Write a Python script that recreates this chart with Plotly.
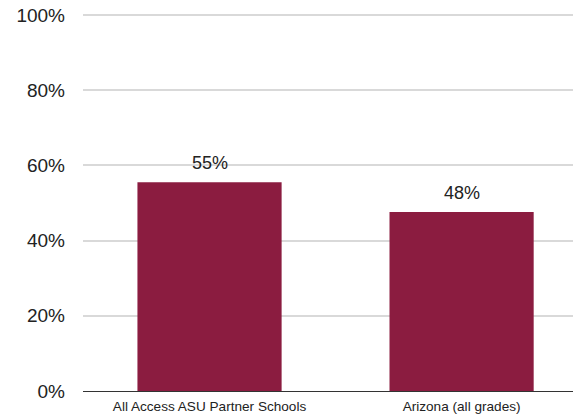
import plotly.graph_objects as go

categories = ["All Access ASU Partner Schools", "Arizona (all grades)"]
values = [55.5, 47.6]
value_labels = ["55%", "48%"]
y_ticks = [0, 20, 40, 60, 80, 100]
y_tick_labels = ["0%", "20%", "40%", "60%", "80%", "100%"]

BAR_COLOR = "#8B1C40"
FONT = "Liberation Sans, Arial, sans-serif"

fig = go.Figure()
fig.add_trace(go.Bar(
    x=categories, y=values, width=0.572,
    marker=dict(color=BAR_COLOR, line=dict(width=0)),
    hoverinfo="skip",
))

for c, v, t in zip(categories, values, value_labels):
    fig.add_annotation(x=c, y=v, text=t, showarrow=False, yanchor="bottom",
                       yshift=7, font=dict(family=FONT, size=18, color="#222222"))

fig.update_layout(
    width=573, height=417,
    margin=dict(l=83, r=0, t=13, b=26, autoexpand=False),
    paper_bgcolor="white", plot_bgcolor="white",
    showlegend=False,
    font=dict(family=FONT, color="#222222"),
    xaxis=dict(
        type="category", range=[-0.502, 1.442], automargin=False,
        showgrid=False, showline=True, linecolor="#333333", linewidth=1,
        ticks="", tickfont=dict(size=13.6, color="#222222"),
        ticklabelstandoff=3,
    ),
    yaxis=dict(
        range=[0, 100.53], tickvals=y_ticks, ticktext=y_tick_labels,
        automargin=False,
        showgrid=True, gridcolor="#D9D9D9", gridwidth=2,
        zeroline=False, showline=False, ticks="",
        tickfont=dict(size=19, color="#222222"),
        ticklabelstandoff=17,
    ),
)

fig.write_html(
    "out.html",
    config={"displayModeBar": False},
    post_script="document.body.style.margin='0';document.body.style.overflow='hidden';",
)
